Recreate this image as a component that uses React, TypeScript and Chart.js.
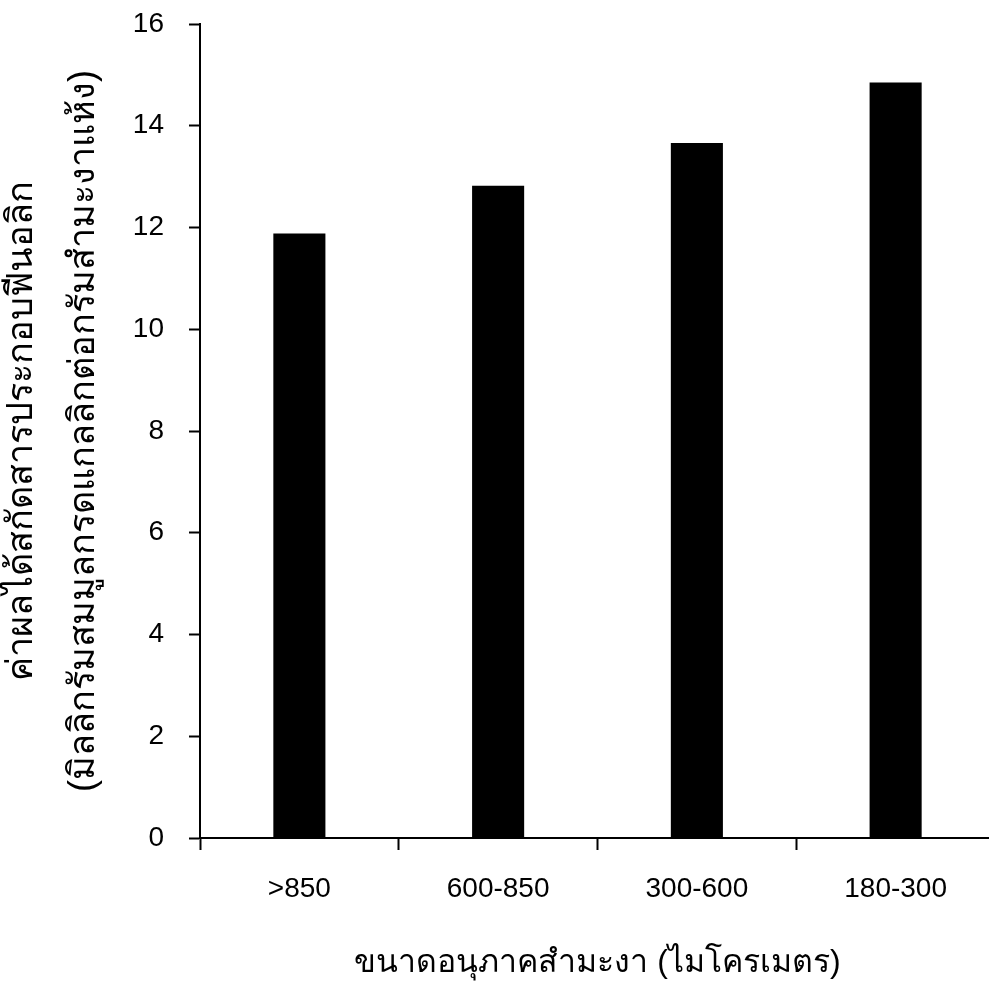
import React, { useEffect, useRef } from "react";
import { Chart, registerables } from "chart.js";

Chart.register(...registerables);

const categories = [">850", "600-850", "300-600", "180-300"];
const values = [11.88, 12.82, 13.66, 14.85];
const yMin = 0;
const yMax = 16;
const yStep = 2;
const yTitleLines = [
  "ค่าผลได้สกัดสารประกอบฟีนอลิก",
  "(มิลลิกรัมสมมูลกรดแกลลิกต่อกรัมสำมะงาแห้ง)",
];
const xTitle = "ขนาดอนุภาคสำมะงา (ไมโครเมตร)";

const FONT = "'Liberation Sans', Arial, 'Noto Sans', sans-serif";

export default function App() {
  const ref = useRef<HTMLCanvasElement | null>(null);
  useEffect(() => {
    if (!ref.current) return;
    const chart = new Chart(ref.current, {
      type: "bar",
      data: {
        labels: categories,
        datasets: [
          {
            data: values,
            backgroundColor: "#000",
            borderWidth: 0,
            barPercentage: 0.262,
            categoryPercentage: 1,
          },
        ],
      },
      options: {
        responsive: false,
        animation: false,
        layout: { padding: { top: 24, left: 0, right: 0, bottom: 0 } },
        plugins: { legend: { display: false }, tooltip: { enabled: false } },
        scales: {
          x: {
            border: { color: "#000", width: 2 },
            grid: {
              offset: true,
              drawOnChartArea: false,
              drawTicks: true,
              tickLength: 12,
              tickColor: "#000",
              tickWidth: 2,
            },
            ticks: {
              color: "#000",
              font: { family: FONT, size: 28 },
              padding: 22,
              maxRotation: 0,
            },
            title: {
              display: true,
              text: xTitle,
              color: "#000",
              font: { family: FONT, size: 32 },
              padding: { top: 0, bottom: 5 },
            },
            afterFit: (s: any) => {
              s.height = 149;
              s.paddingLeft = 0;
              s.paddingRight = 0;
            },
          },
          y: {
            min: yMin,
            max: yMax,
            border: { color: "#000", width: 2 },
            grid: {
              drawOnChartArea: false,
              drawTicks: true,
              tickLength: 11,
              tickColor: "#000",
              tickWidth: 2,
            },
            ticks: {
              stepSize: yStep,
              color: "#000",
              font: { family: FONT, size: 28 },
              padding: 25,
            },
            title: {
              display: true,
              text: yTitleLines,
              color: "#000",
              font: { family: FONT, size: 36, lineHeight: 1.72 },
              padding: { top: -9, bottom: 0 },
            },
            afterFit: (s: any) => {
              s.width = 200;
              s.paddingTop = 0;
              s.paddingBottom = 0;
            },
          },
        },
      },
    });
    return () => chart.destroy();
  }, []);
  return (
    <div
      style={{
        position: "fixed",
        left: 0,
        top: 0,
        width: 989,
        height: 987,
        overflow: "hidden",
        background: "#fff",
      }}
    >
      <canvas ref={ref} width={995} height={987} style={{ display: "block" }} />
    </div>
  );
}
